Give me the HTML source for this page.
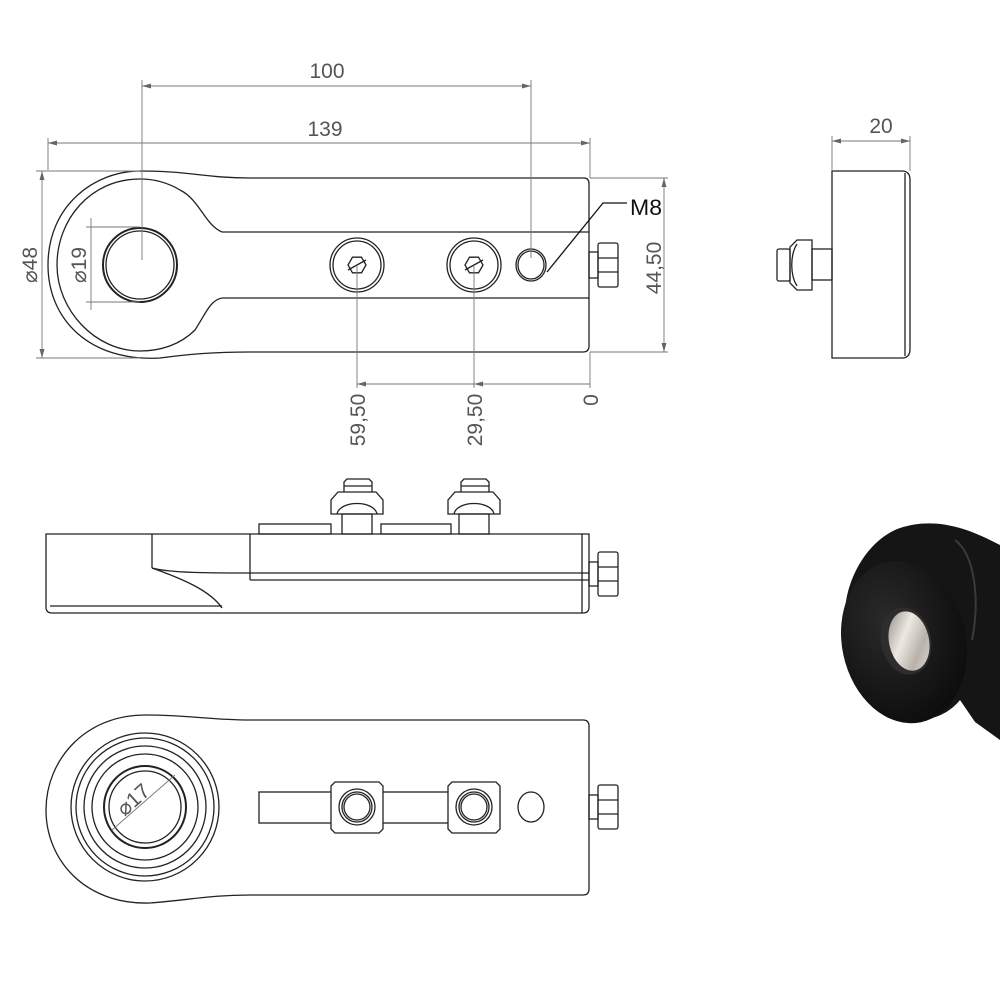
<!DOCTYPE html>
<html><head><meta charset="utf-8"><style>
html,body{margin:0;padding:0;background:#fff}
svg{display:block}
text{font-family:"Liberation Sans",sans-serif;fill:#555;font-size:21px}
</style></head><body>
<svg width="1000" height="1000" viewBox="0 0 1000 1000" xmlns="http://www.w3.org/2000/svg">
<defs>
<radialGradient id="dk" cx="0.4" cy="0.35" r="0.7"><stop offset="0" stop-color="#2a2a2a"/><stop offset="1" stop-color="#0c0c0c"/></radialGradient>
<linearGradient id="mt" x1="0" y1="0" x2="1" y2="1"><stop offset="0" stop-color="#8a857f"/><stop offset="0.4" stop-color="#ece8e2"/><stop offset="0.7" stop-color="#b8b2aa"/><stop offset="1" stop-color="#e0dcd6"/></linearGradient>
</defs>
<g fill="none" stroke="#222" stroke-width="1.3">
<!-- TOP VIEW -->
<path d="M250,178 L584,178 Q589,178 589,184 L589,346 Q589,352 583,352 L250,352 C215,352 190,354 160,358 C90,362 48,320 48,265 C48,205 95,171 140,171 C190,171 205,178 250,178 Z"/>
<path d="M222,232 L589,232 M222,298 L589,298"/>
<path d="M222,232 C205,225 200,200 180,190 C165,181 150,179 140,179 C90,179 57,220 57,265 C57,310 95,351 140,351 C160,351 180,345 195,330 C205,315 210,300 222,298"/>
<circle cx="140" cy="265" r="37" stroke-width="2"/>
<circle cx="140" cy="265" r="34"/>
<circle cx="357" cy="265" r="27"/><circle cx="357" cy="265" r="24"/>
<polygon points="366,265 361.5,272.8 352.5,272.8 348,265 352.5,257.2 361.5,257.2"/>
<line x1="348" y1="270" x2="366" y2="260"/>
<circle cx="474" cy="265" r="27"/><circle cx="474" cy="265" r="24"/>
<polygon points="483,265 478.5,272.8 469.5,272.8 465,265 469.5,257.2 478.5,257.2"/>
<line x1="465" y1="270" x2="483" y2="260"/>
<ellipse cx="531" cy="265" rx="15" ry="16"/><ellipse cx="531" cy="265" rx="13" ry="14"/>
<rect x="589" y="252" width="9" height="26"/>
<rect x="598" y="243" width="20" height="44" rx="2"/>
<line x1="598" y1="258" x2="618" y2="258"/><line x1="598" y1="272" x2="618" y2="272"/>
<polyline points="547,272 603,203 627,203" stroke="#111"/>
<!-- FRONT VIEW -->
<path d="M46,534 L589,534 L589,607 Q589,613 583,613 L52,613 Q46,613 46,607 Z"/>
<line x1="152" y1="534" x2="152" y2="568"/>
<line x1="250" y1="534" x2="250" y2="580"/>
<line x1="582" y1="534" x2="582" y2="613"/>
<path d="M250,573 L589,573 M250,580 L589,580"/>
<path d="M152,568 C170,573 210,573 250,573"/>
<path d="M152,568 C180,578 210,590 222,608"/>
<line x1="50" y1="606" x2="222" y2="606"/>
<rect x="259" y="524" width="72" height="10"/><rect x="381" y="524" width="70" height="10"/>
<g id="sc">
<rect x="342" y="514" width="30" height="20"/>
<path d="M331,514 L331,500 L338,492 L376,492 L383,500 L383,514 Z"/>
<path d="M337,514 C340,500 374,500 377,514"/>
<path d="M344,492 L344,482 L347,479 L369,479 L372,482 L372,492"/>
<line x1="344" y1="486" x2="372" y2="486"/>
</g>
<use href="#sc" transform="translate(117,0)"/>
<rect x="589" y="562" width="9" height="24"/>
<rect x="598" y="552" width="20" height="44" rx="2"/>
<line x1="598" y1="567" x2="618" y2="567"/><line x1="598" y1="581" x2="618" y2="581"/>
<!-- BOTTOM VIEW -->
<path d="M250,720 L583,720 Q589,720 589,726 L589,889 Q589,895 583,895 L250,895 C210,895 190,900 150,903 C85,905 46,860 46,810 C46,760 85,715 145,715 C190,715 210,720 250,720 Z"/>
<circle cx="145" cy="807" r="74"/><circle cx="145" cy="807" r="69"/>
<circle cx="145" cy="807" r="61"/><circle cx="145" cy="807" r="53"/>
<circle cx="145" cy="807" r="41" stroke-width="2"/><circle cx="145" cy="807" r="36"/>
<rect x="259" y="792" width="193" height="31"/>
<path d="M335,782 L379,782 L383,786 L383,829 L379,833 L335,833 L331,829 L331,786 Z" fill="#fff"/>
<circle cx="357" cy="807" r="18"/><circle cx="357" cy="807" r="15"/><circle cx="357" cy="807" r="13"/>
<path d="M452,782 L496,782 L500,786 L500,829 L496,833 L452,833 L448,829 L448,786 Z" fill="#fff"/>
<circle cx="474" cy="807" r="18"/><circle cx="474" cy="807" r="15"/><circle cx="474" cy="807" r="13"/>
<ellipse cx="531" cy="807" rx="13" ry="15"/>
<rect x="589" y="795" width="9" height="24"/>
<rect x="598" y="785" width="20" height="44" rx="2"/>
<line x1="598" y1="800" x2="618" y2="800"/><line x1="598" y1="814" x2="618" y2="814"/>
<!-- SIDE VIEW -->
<path d="M832,171 L902,171 Q910,171 910,180 L910,349 Q910,358 902,358 L832,358 Z"/>
<line x1="905" y1="173" x2="905" y2="356"/>
<rect x="812" y="249" width="20" height="31"/>
<path d="M812,240 L812,290 L797,290 L790,283 L790,247 L797,240 Z"/>
<path d="M797,244 C790,255 790,275 797,286"/>
<rect x="777" y="249" width="13" height="32" rx="2"/>
</g>
<!-- DIMENSIONS -->
<g fill="none" stroke="#777" stroke-width="0.9">
<path d="M142,80 L142,260 M531,80 L531,258 M142,86 L531,86"/>
<path d="M48,138 L48,170 M590,138 L590,178 M48,143 L590,143"/>
<path d="M36,171 L140,171 M36,358 L140,358 M42,171 L42,358"/>
<path d="M86,227 L140,227 M86,302 L140,302 M91,218 L91,310"/>
<path d="M590,178 L668,178 M590,352 L668,352 M664,178 L664,352"/>
<path d="M357,265 L357,388 M474,265 L474,388 M590,352 L590,388 M357,384 L590,384"/>
<path d="M832,136 L832,171 M910,136 L910,171 M832,141 L910,141"/>
<path d="M112,830 L175,775"/>
</g>
<g fill="#666">
<path d="M142,86 l9,-2.5 v5 z M531,86 l-9,-2.5 v5 z"/>
<path d="M48,143 l9,-2.5 v5 z M590,143 l-9,-2.5 v5 z"/>
<path d="M42,171 l-2.5,9 h5 z M42,358 l-2.5,-9 h5 z"/>
<path d="M664,178 l-2.5,9 h5 z M664,352 l-2.5,-9 h5 z"/>
<path d="M357,384 l9,-2.5 v5 z M474,384 l9,-2.5 v5 z"/>
<path d="M832,141 l9,-2.5 v5 z M910,141 l-9,-2.5 v5 z"/>
</g>
<text x="327" y="78" text-anchor="middle">100</text>
<text x="325" y="136" text-anchor="middle">139</text>
<text x="881" y="133" text-anchor="middle">20</text>
<text x="630" y="215" style="fill:#111;font-size:22px" textLength="32" lengthAdjust="spacingAndGlyphs">M8</text>
<text transform="translate(37,265) rotate(-90)" text-anchor="middle">⌀48</text>
<text transform="translate(86,265) rotate(-90)" text-anchor="middle">⌀19</text>
<text transform="translate(661,268) rotate(-90)" text-anchor="middle">44,50</text>
<text transform="translate(365,420) rotate(-90)" text-anchor="middle">59,50</text>
<text transform="translate(482,420) rotate(-90)" text-anchor="middle">29,50</text>
<text transform="translate(598,400) rotate(-90)" text-anchor="middle">0</text>
<text transform="translate(138,805) rotate(-42)" text-anchor="middle">⌀17</text>
<!-- RENDER -->
<path d="M900,528 C930,518 960,525 990,540 L1000,545 L1000,740 L975,722 L960,700 C940,725 900,728 870,700 C845,675 838,620 850,585 C860,555 880,535 900,528 Z" fill="#151515"/>
<ellipse cx="904" cy="642" rx="62" ry="82" transform="rotate(-12 904 642)" fill="url(#dk)"/>
<path d="M955,540 C975,555 980,600 972,640" stroke="#3a3a3a" stroke-width="2" fill="none"/>
<ellipse cx="906" cy="641" rx="25" ry="34" transform="rotate(-12 906 641)" fill="#2d2d2d"/>
<ellipse cx="909" cy="641" rx="20" ry="30" transform="rotate(-12 909 641)" fill="url(#mt)"/>
</svg>
</body></html>
